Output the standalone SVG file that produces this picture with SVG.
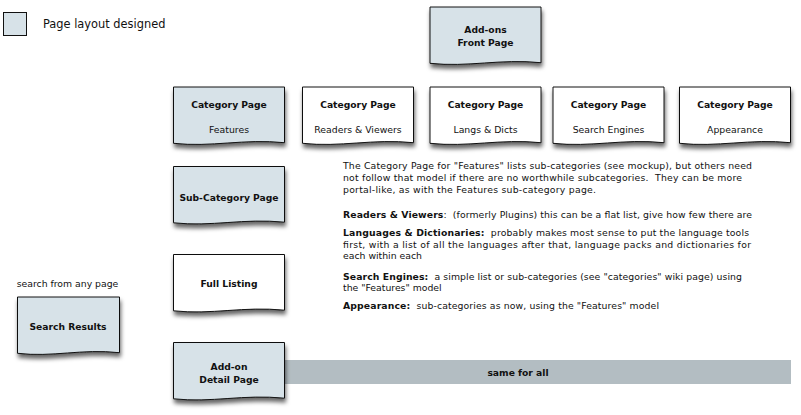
<svg xmlns="http://www.w3.org/2000/svg" width="801" height="415" viewBox="0 0 801 415">
<style>
.pg{stroke:#111;stroke-width:1;filter:url(#sh)}
.des{fill:#d7e2e8}
.new{fill:#ffffff}
.t{font-family:"DejaVu Sans","Liberation Sans",sans-serif;fill:#111}
.b{font-weight:bold;font-size:9.2px}
.r{font-size:9.3px}
.c{text-anchor:middle}
.body{font-family:"DejaVu Sans","Liberation Sans",sans-serif;font-size:9.3px;fill:#111;white-space:pre}
.bb{font-weight:bold}
</style>
<defs>
<filter id="sh" x="-10%" y="-10%" width="125%" height="140%">
<feDropShadow dx="1" dy="4" stdDeviation="2" flood-color="#000" flood-opacity="0.6"/>
</filter>
<path id="doc" d="M0,0 H111 V55.7 C70,51.5 38,60.5 0,56.3 Z"/>
<path id="docS" d="M0,0 H102 V55.7 C64,51.5 35,60.5 0,56.3 Z"/>
</defs>
<rect width="801" height="415" fill="#fff"/>

<g id="legend">
<rect x="3.5" y="12.5" width="23" height="23" class="des" stroke="#111" stroke-width="1"/>
<text x="43" y="28" class="t" font-size="11.4">Page layout designed</text>
</g>

<g id="bar">
<rect x="246" y="360" width="545" height="24" fill="#b3bdc2"/>
<text x="518" y="375.5" class="t b c">same for all</text>
</g>

<g id="front-page">
<use href="#doc" x="430" y="7" class="pg des"/>
<text x="485.5" y="33" class="t b c">Add-ons</text>
<text x="485.5" y="46" class="t b c">Front Page</text>
</g>

<g id="cat-features">
<use href="#doc" x="173.5" y="87" class="pg des"/>
<text x="229" y="108" class="t b c">Category Page</text>
<text x="229" y="132.5" class="t r c">Features</text>
</g>
<g id="cat-readers">
<use href="#doc" x="302.5" y="87" class="pg new"/>
<text x="358" y="108" class="t b c">Category Page</text>
<text x="358" y="132.5" class="t r c">Readers &amp; Viewers</text>
</g>
<g id="cat-langs">
<use href="#doc" x="430" y="87" class="pg new"/>
<text x="485.5" y="108" class="t b c">Category Page</text>
<text x="485.5" y="132.5" class="t r c">Langs &amp; Dicts</text>
</g>
<g id="cat-search">
<use href="#doc" x="553" y="87" class="pg new"/>
<text x="608.5" y="108" class="t b c">Category Page</text>
<text x="608.5" y="132.5" class="t r c">Search Engines</text>
</g>
<g id="cat-appearance">
<use href="#doc" x="679.5" y="87" class="pg new"/>
<text x="735" y="108" class="t b c">Category Page</text>
<text x="735" y="132.5" class="t r c">Appearance</text>
</g>

<g id="sub-category">
<use href="#doc" x="173.5" y="166.5" class="pg des"/>
<text x="229" y="200.5" class="t b c">Sub-Category Page</text>
</g>
<g id="full-listing">
<use href="#doc" x="173.5" y="254.5" class="pg new"/>
<text x="229" y="287" class="t b c">Full Listing</text>
</g>
<g id="detail-page">
<use href="#doc" x="173.5" y="342.5" class="pg des"/>
<text x="229" y="370" class="t b c">Add-on</text>
<text x="229" y="383" class="t b c">Detail Page</text>
</g>
<g id="search-results">
<text x="67.5" y="287" class="t r c">search from any page</text>
<use href="#docS" x="17.5" y="297" class="pg des"/>
<text x="68" y="329.5" class="t b c">Search Results</text>
</g>

<g id="connectors"></g>

<g id="notes" class="body">
<text x="343" y="169" textLength="409">The Category Page for "Features" lists sub-categories (see mockup), but others need</text>
<text x="343" y="181" textLength="399">not follow that model if there are no worthwhile subcategories.&#160; They can be more</text>
<text x="343" y="192.5" textLength="253">portal-like, as with the Features sub-category page.</text>
<text x="343" y="217.5" textLength="409"><tspan class="bb">Readers &amp; Viewers</tspan>:&#160; (formerly Plugins) this can be a flat list, give how few there are</text>
<text x="343" y="236" textLength="406"><tspan class="bb">Languages &amp; Dictionaries:</tspan>&#160; probably makes most sense to put the language tools</text>
<text x="343" y="247.5" textLength="408">first, with a list of all the languages after that, language packs and dictionaries for</text>
<text x="343" y="259">each within each</text>
<text x="343" y="279.5" textLength="399"><tspan class="bb">Search Engines:</tspan>&#160; a simple list or sub-categories (see "categories" wiki page) using</text>
<text x="343" y="291">the "Features" model</text>
<text x="343" y="309" textLength="316"><tspan class="bb">Appearance:</tspan>&#160; sub-categories as now, using the "Features" model</text>
</g>
</svg>
